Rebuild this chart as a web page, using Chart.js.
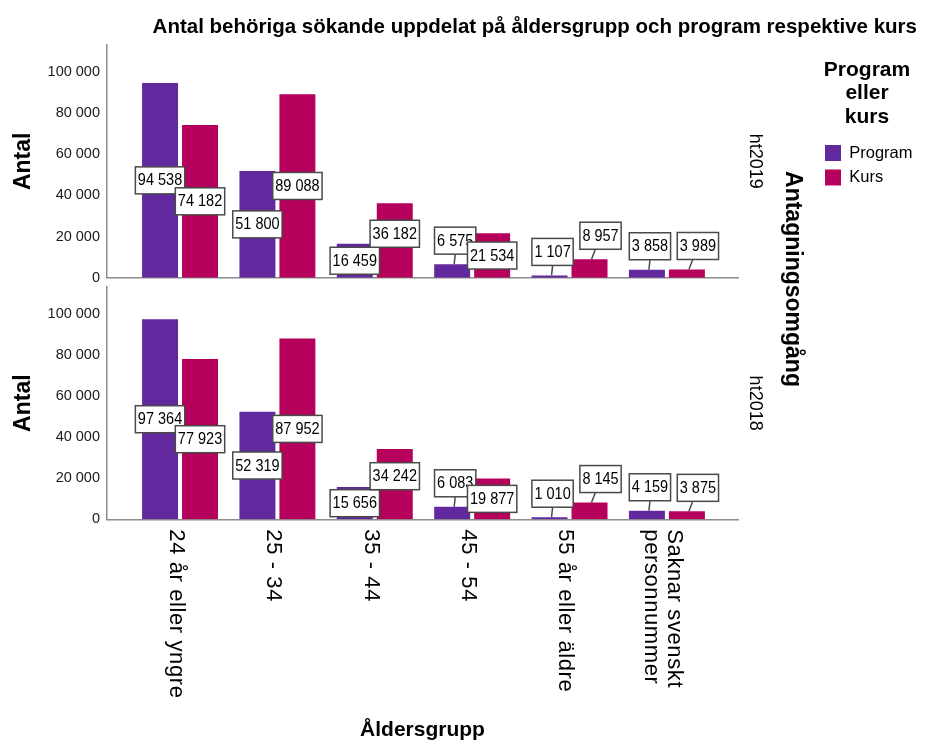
<!DOCTYPE html>
<html><head><meta charset="utf-8">
<script src="https://cdn.jsdelivr.net/npm/chart.js@4.4.1/dist/chart.umd.min.js"></script>
<style>
html,body{margin:0;padding:0;background:#fff;}
#wrap{position:relative;width:925px;height:745px;background:#fff;}
canvas{position:absolute;left:0;top:0;}
</style></head><body>
<div id="wrap"><canvas id="c2018" width="925" height="745"></canvas><canvas id="c2019" width="925" height="745"></canvas></div>
<script>
const chartTitle = 'Antal behöriga sökande uppdelat på åldersgrupp och program respektive kurs';
const categories = ['24 år eller yngre', '25 - 34', '35 - 44', '45 - 54', '55 år eller äldre', 'Saknar svenskt\npersonnummer'];
const seriesNames = ['Program', 'Kurs'];
const panelNames = ['ht2019', 'ht2018'];
const program2019 = [94538, 51800, 16459, 6575, 1107, 3858];
const kurs2019 = [74182, 89088, 36182, 21534, 8957, 3989];
const program2018 = [97364, 52319, 15656, 6083, 1010, 4159];
const kurs2018 = [77923, 87952, 34242, 19877, 8145, 3875];
const yTickValues = [0, 20000, 40000, 60000, 80000, 100000];
const yAxisTitle = 'Antal';
const xAxisTitle = 'Åldersgrupp';
const panelAxisTitle = 'Antagningsomgång';
const legendTitle = ['Program', 'eller', 'kurs'];

const FONT = '"Liberation Sans", Arial, sans-serif';
const COLORS = ['#62299E', '#B5005C'];
const AXIS = '#8c8c8c';
Chart.defaults.font.family = FONT;
Chart.defaults.color = '#000';

function fmt(v) { return String(v).replace(/\B(?=(\d{3})+(?!\d))/g, ' '); }

const valueLabels = {
  id: 'valueLabels',
  afterDatasetsDraw(chart) {
    const ctx = chart.ctx;
    ctx.save();
    ctx.font = '14.5px ' + FONT;
    const items = [];
    const n = chart.data.labels.length;
    for (let i = 0; i < n; i++) {
      chart.data.datasets.forEach((ds, d) => {
        const bar = chart.getDatasetMeta(d).data[i];
        const text = fmt(ds.data[i].y);
        const w = ctx.measureText(text).width + 5;
        const h = 27;
        const barH = bar.base - bar.y;
        let cx, cy, above = false;
        if (barH >= 30) {
          cx = bar.x; cy = (bar.y + bar.base) / 2;
          items.forEach(o => {
            const ox = Math.min(cx + w / 2, o.cx + o.w / 2) - Math.max(cx - w / 2, o.cx - o.w / 2);
            const oy = Math.min(cy + h / 2, o.cy + o.h / 2) - Math.max(cy - h / 2, o.cy - o.h / 2);
            if (ox > 0 && oy > 0 && !o.above && o.cy > cy) cy = o.cy - o.h / 2 - h / 2;
          });
        } else {
          above = true;
          cx = bar.x + (d === 1 ? 11 : 3);
          cy = bar.y - 10 - h / 2;
        }
        items.push({cx, cy, w, h, text, above, bar});
      });
    }
    ctx.strokeStyle = '#4a4a4a';
    ctx.lineWidth = 1.5;
    items.forEach(it => {
      if (!it.above) return;
      ctx.beginPath();
      ctx.moveTo(it.bar.x + 2, it.bar.y);
      ctx.lineTo(it.bar.x + 2 + (it.cx - it.bar.x) * 0.35, it.cy + it.h / 2);
      ctx.stroke();
    });
    items.forEach(it => {
      ctx.fillStyle = '#fff';
      ctx.fillRect(it.cx - it.w / 2, it.cy - it.h / 2, it.w, it.h);
      ctx.strokeRect(it.cx - it.w / 2, it.cy - it.h / 2, it.w, it.h);
      ctx.save();
      ctx.translate(it.cx, it.cy + 0.5);
      ctx.scale(1, 1.15);
      ctx.fillStyle = '#000';
      ctx.textAlign = 'center';
      ctx.textBaseline = 'middle';
      ctx.fillText(it.text, 0, 0);
      ctx.restore();
    });
    ctx.restore();
  }
};

const categoryTicks = {
  id: 'categoryTicks',
  afterDraw(chart) {
    const xs = chart.scales.x;
    const ctx = chart.ctx;
    ctx.save();
    ctx.font = '22px ' + FONT;
    if ('letterSpacing' in ctx) ctx.letterSpacing = '0.6px';
    ctx.fillStyle = '#000';
    ctx.textAlign = 'left';
    ctx.textBaseline = 'middle';
    categories.forEach((lab, i) => {
      const lines = lab.split('\n');
      ctx.save();
      ctx.translate(xs.getPixelForValue(i) - 4, xs.top + 10);
      ctx.rotate(Math.PI / 2);
      lines.forEach((ln, k) => ctx.fillText(ln, 0, (k - (lines.length - 1) / 2) * 23));
      ctx.restore();
    });
    ctx.restore();
  }
};

const panelAxis = {
  id: 'panelAxis',
  afterDraw(chart) {
    const ctx = chart.ctx;
    ctx.save();
    ctx.font = 'bold 23px ' + FONT;
    ctx.fillStyle = '#000';
    ctx.textAlign = 'center';
    ctx.textBaseline = 'middle';
    ctx.translate(chart.chartArea.right + 54, 279);
    ctx.rotate(Math.PI / 2);
    ctx.fillText(panelAxisTitle, 0, 0);
    ctx.restore();
  }
};

function makePanel(id, progValues, kursValues, panelName, isTop) {
  return new Chart(document.getElementById(id), {
    type: 'bar',
    data: {
      labels: categories,
      datasets: [
        {label: seriesNames[0], data: progValues.map((v, i) => ({x: i, y: v})), backgroundColor: COLORS[0], borderWidth: 0, categoryPercentage: 0.821, barPercentage: 0.9},
        {label: seriesNames[1], data: kursValues.map((v, i) => ({x: i, y: v})), backgroundColor: COLORS[1], borderWidth: 0, categoryPercentage: 0.821, barPercentage: 0.9}
      ]
    },
    options: {
      responsive: false,
      animation: false,
      devicePixelRatio: 1,
      layout: {padding: isTop ? {top: 0, left: 0, right: 8, bottom: 467.3} : {top: 287, left: 0, right: 0, bottom: 0}},
      scales: {
        x: {
          type: 'linear', min: -0.75, max: 5.73, offset: false, bounds: 'data',
          grid: {display: false, drawTicks: false, offset: false},
          border: {display: true, color: AXIS, width: 1.5},
          ticks: {display: false, includeBounds: false},
          afterBuildTicks: s => { s.ticks = categories.map((c, i) => ({value: i})); },
          afterFit: s => { s.height = isTop ? 0 : 225.7; },
          title: {display: !isTop, text: xAxisTitle, font: {size: 21, weight: 'bold'}, padding: {top: 0, bottom: 2.4}}
        },
        y: {
          position: 'left', min: 0, max: 113000,
          grid: {display: false, drawTicks: false},
          border: {display: true, color: AXIS, width: 1.5},
          ticks: {padding: 7, font: {size: 14.5}, color: '#1a1a1a', callback: v => fmt(v)},
          afterBuildTicks: s => { s.ticks = yTickValues.map(v => ({value: v})); },
          title: {display: true, text: yAxisTitle, font: {size: 23, weight: 'bold'}, padding: {top: 9.7, bottom: 0}},
          afterFit: s => { s.width = 107; }
        },
        yr: {
          position: 'right', min: 0, max: 1,
          grid: {display: false, drawTicks: false},
          border: {display: false},
          ticks: {display: false},
          title: {display: true, text: panelName, font: {size: 18}, padding: {top: isTop ? 51.2 : 159.2, bottom: 0}},
          afterFit: s => { s.width = isTop ? 79 : 187; }
        }
      },
      plugins: {
        title: {display: isTop, text: chartTitle, align: 'end', color: '#000', font: {size: 20.5, weight: 'bold'}, padding: {top: 14.7, bottom: 5.7}},
        legend: {
          display: isTop, position: 'right', align: 'start', fullSize: false, maxWidth: 100,
          labels: {boxWidth: 16, boxHeight: 16, padding: 8, font: {size: 16.5}, color: '#000'},
          title: {display: true, text: legendTitle, color: '#000', font: {size: 21, weight: 'bold', lineHeight: 1.12}, padding: {top: 14.5, bottom: 53.7}}
        },
        tooltip: {enabled: false}
      }
    },
    plugins: isTop ? [valueLabels, panelAxis] : [valueLabels, categoryTicks]
  });
}

makePanel('c2018', program2018, kurs2018, panelNames[1], false);
makePanel('c2019', program2019, kurs2019, panelNames[0], true);
</script></body></html>
